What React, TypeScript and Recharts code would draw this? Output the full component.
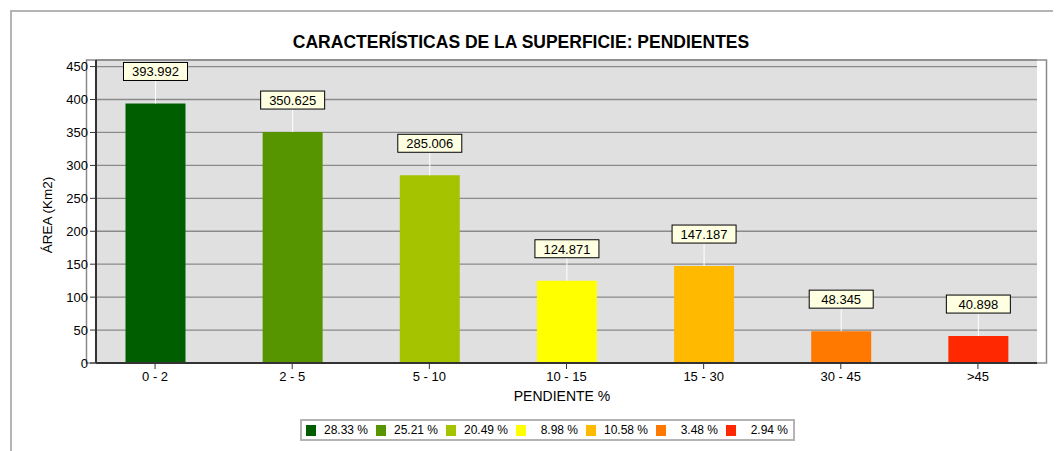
import { BarChart, Bar, XAxis, YAxis, CartesianGrid, Cell, LabelList, ReferenceArea, Customized } from 'recharts'

const categories = ['0 - 2', '2 - 5', '5 - 10', '10 - 15', '15 - 30', '30 - 45', '>45']
const areas = [393.992, 350.625, 285.006, 124.871, 147.187, 48.345, 40.898]
const percents = ['28.33 %', '25.21 %', '20.49 %', '8.98 %', '10.58 %', '3.48 %', '2.94 %']
const colors = ['#005e00', '#569400', '#a6c300', '#ffff00', '#ffba00', '#ff7900', '#ff2800']
const yTicks = [0, 50, 100, 150, 200, 250, 300, 350, 400, 450]

const data = categories.map((c, i) => ({ name: c, area: areas[i] }))

const FONT = '"Liberation Sans", Arial, sans-serif'

function ValueLabel(props: any) {
  const { x, y, width, value } = props
  const cx = x + width / 2
  return (
    <g>
      <line x1={cx} x2={cx} y1={y} y2={y - 23} stroke="#ffffff" strokeWidth={1} />
      <rect x={cx - 32} y={y - 41} width={64} height={18} fill="#ffffe1" stroke="#000" strokeWidth={1} />
      <text x={cx} y={y - 31.5} textAnchor="middle" dominantBaseline="central" fontSize={13} fill="#000" fontFamily={FONT}>
        {Number(value).toFixed(3)}
      </text>
    </g>
  )
}

function Texts() {
  return (
    <g fontFamily={FONT} fill="#000">
      <text x={513} y={34} textAnchor="middle" dominantBaseline="central" fontSize={17.5} fontWeight="bold">
        CARACTERÍSTICAS DE LA SUPERFICIE: PENDIENTES
      </text>
      <text x={39} y={207} textAnchor="middle" dominantBaseline="central" fontSize={13.5} transform="rotate(-90 39 207)">
        ÁREA (Km2)
      </text>
      <text x={554} y={388} textAnchor="middle" dominantBaseline="central" fontSize={14}>
        PENDIENTE %
      </text>
    </g>
  )
}

export default function App() {
  return (
    <div style={{ position: 'relative', width: 1053, height: 443, overflow: 'hidden', fontFamily: FONT }}>
      <div style={{ position: 'absolute', left: 2, top: 2, width: 1200, height: 600, border: '2px solid #b4b4b4' }} />
      <div style={{ position: 'absolute', left: 0, top: 0 }}>
        <BarChart width={1053} height={443} data={data} margin={{ top: 52, right: 24, bottom: 58, left: 0 }}>
          <CartesianGrid vertical={false} fill="#e0e0e0" stroke="#8a8a8a" strokeWidth={1.3} />
          <ReferenceArea y1={0} y2={460} fill="none" stroke="#8a8a8a" strokeWidth={1.5} />
          <XAxis
            dataKey="name"
            height={30}
            padding={{ left: -9.5, right: -9.5 }}
            axisLine={{ stroke: '#333', strokeWidth: 2 }}
            tickLine={{ stroke: '#333' }}
            tickSize={6}
            tickMargin={3}
            tick={{ fontSize: 13, fill: '#000', fontFamily: FONT }}
          />
          <YAxis
            width={88}
            domain={[0, 460]}
            ticks={yTicks}
            allowDataOverflow
            axisLine={{ stroke: '#333', strokeWidth: 2 }}
            tickLine={{ stroke: '#333' }}
            tickSize={6}
            tickMargin={2}
            tick={{ fontSize: 13, fill: '#000', fontFamily: FONT }}
          />
          <Bar dataKey="area" barSize={60} isAnimationActive={false}>
            {data.map((d, i) => (
              <Cell key={d.name} fill={colors[i]} />
            ))}
            <LabelList dataKey="area" content={ValueLabel} />
          </Bar>
          <Customized component={Texts} />
        </BarChart>
      </div>
      <div
        style={{
          position: 'absolute',
          left: 292,
          top: 411,
          width: 491,
          height: 18,
          border: '2px solid #b4b4b4',
          background: '#fff',
        }}
      >
        {percents.map((p, i) => (
          <div key={p}>
            <div style={{ position: 'absolute', left: 4 + i * 70, top: 4, width: 10, height: 11, background: colors[i] }} />
            <div
              style={{
                position: 'absolute',
                left: 4 + i * 70 + 12,
                width: 50,
                top: 1,
                textAlign: 'right',
                fontSize: 12,
                lineHeight: '16px',
                color: '#000',
                whiteSpace: 'nowrap',
              }}
            >
              {p}
            </div>
          </div>
        ))}
      </div>
    </div>
  )
}
